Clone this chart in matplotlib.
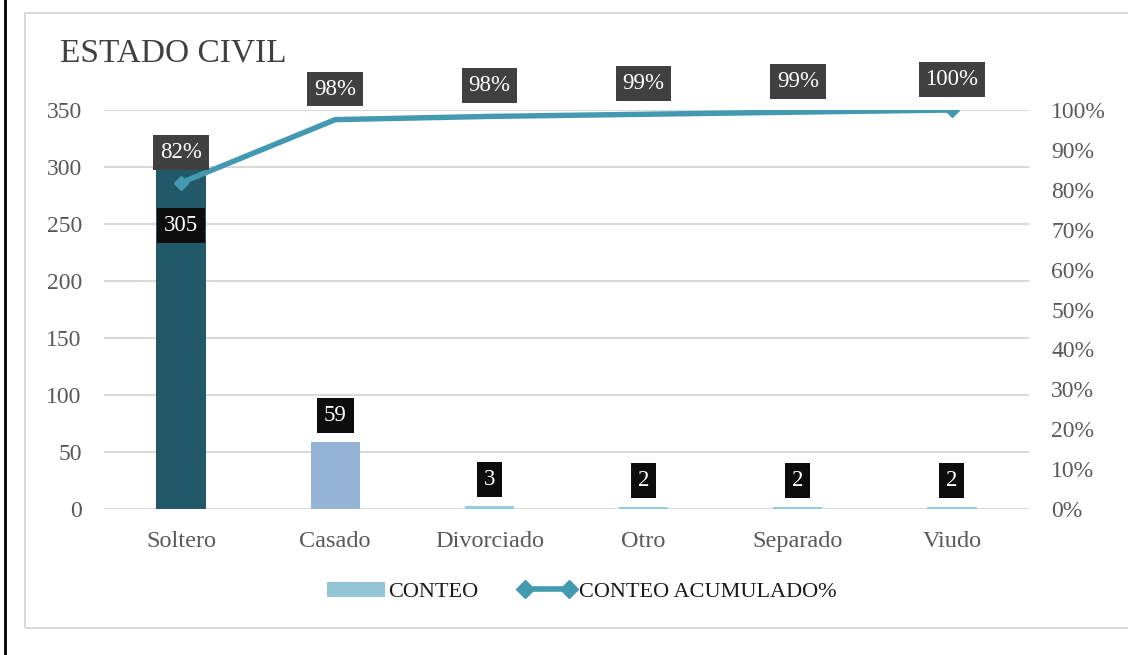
import matplotlib
matplotlib.use("Agg")
import matplotlib.pyplot as plt
from matplotlib.lines import Line2D
from matplotlib.patches import Patch, Rectangle
import numpy as np

# Marital status counts
categories = ["Soltero", "Casado", "Divorciado", "Otro", "Separado", "Viudo"]
counts = [305, 59, 3, 2, 2, 2]
bar_colors = ["#215968", "#95B3D7", "#93CDDD", "#93CDDD", "#93CDDD", "#93CDDD"]
left_ticks = [0, 50, 100, 150, 200, 250, 300, 350]
right_ticks = [0, 0.1, 0.2, 0.3, 0.4, 0.5, 0.6, 0.7, 0.8, 0.9, 1.0]

cum_share = np.cumsum(counts) / np.sum(counts)

plt.rcParams["font.family"] = ["Liberation Serif", "DejaVu Serif"]

fig = plt.figure(figsize=(11.28, 6.55), dpi=100)
fig.patch.set_facecolor("white")

# outer chart frame and left rule
fig.add_artist(Rectangle((25 / 1128, 1 - 628 / 655), 1.2, (628 - 13) / 655,
                         transform=fig.transFigure, facecolor="none",
                         edgecolor="#D9D9D9", linewidth=1.5))
fig.add_artist(Line2D([4.5 / 1128, 4.5 / 1128], [0, 1], transform=fig.transFigure,
                      color="black", linewidth=2))

ax = fig.add_axes([104 / 1128, 1 - 509 / 655, (1029 - 104) / 1128, (509 - 110) / 655])
x = np.arange(len(categories))
ax.bar(x, counts, width=0.32, color=bar_colors, zorder=2)
ax.set_xlim(-0.5, len(categories) - 0.5)
ax.set_ylim(0, 350)
ax.set_yticks(left_ticks)
ax.set_xticks(x)
ax.set_xticklabels(categories)
ax.grid(axis="y", color="#D9D9D9", linewidth=1.5, zorder=0)
ax.set_axisbelow(True)
for s in ax.spines.values():
    s.set_visible(False)
ax.tick_params(axis="both", length=0, labelcolor="#595959")
ax.tick_params(axis="x", pad=16, labelsize=17.5)
ax.tick_params(axis="y", pad=16, labelsize=17)

ax2 = ax.twinx()
ax2.set_ylim(0, 1)
ax2.set_yticks(right_ticks)
ax2.set_yticklabels([f"{int(round(t * 100))}%" for t in right_ticks])
for s in ax2.spines.values():
    s.set_visible(False)
ax2.tick_params(axis="y", length=0, labelsize=17, labelcolor="#595959", pad=16)

line_color = "#4299B0"
ax2.plot(x, cum_share, color=line_color, linewidth=3.9, marker="D", markersize=7,
         markevery=[0, len(x) - 1], zorder=4)

# cumulative percentage labels
for xi, v in zip(x, cum_share):
    ax2.annotate(f"{v * 100:.0f}%", (xi, v), xytext=(0, 22), textcoords="offset points",
                 ha="center", va="center", fontsize=16.5, color="white",
                 bbox=dict(boxstyle="square,pad=0.3", fc="#404040", ec="none"),
                 zorder=6, annotation_clip=False)

# count labels
for i, (xi, c) in enumerate(zip(x, counts)):
    off = -46 if i == 0 else 19
    ax.annotate(f"{c}", (xi, c), xytext=(0, off), textcoords="offset points",
                ha="center", va="center", fontsize=16.5, color="white",
                bbox=dict(boxstyle="square,pad=0.3", fc="#0D0D0D", ec="none"),
                zorder=5, annotation_clip=False)

fig.text(60 / 1128, 1 - 53 / 655, "ESTADO CIVIL", fontsize=24, color="#404040",
         ha="left", va="center")

handles = [Patch(facecolor="#93C5D6", edgecolor="none"),
           Line2D([0], [0], color=line_color, linewidth=4, marker="D", markersize=9)]
fig.legend(handles, ["CONTEO", "CONTEO ACUMULADO%"], loc="center",
           bbox_to_anchor=(582 / 1128, 1 - 592 / 655), ncol=2, frameon=False,
           fontsize=16, handlelength=2.6, columnspacing=1.8, handletextpad=0.15,
           numpoints=2, labelcolor="#1A1A1A")

fig.savefig("out.png", dpi=100, facecolor="white")
